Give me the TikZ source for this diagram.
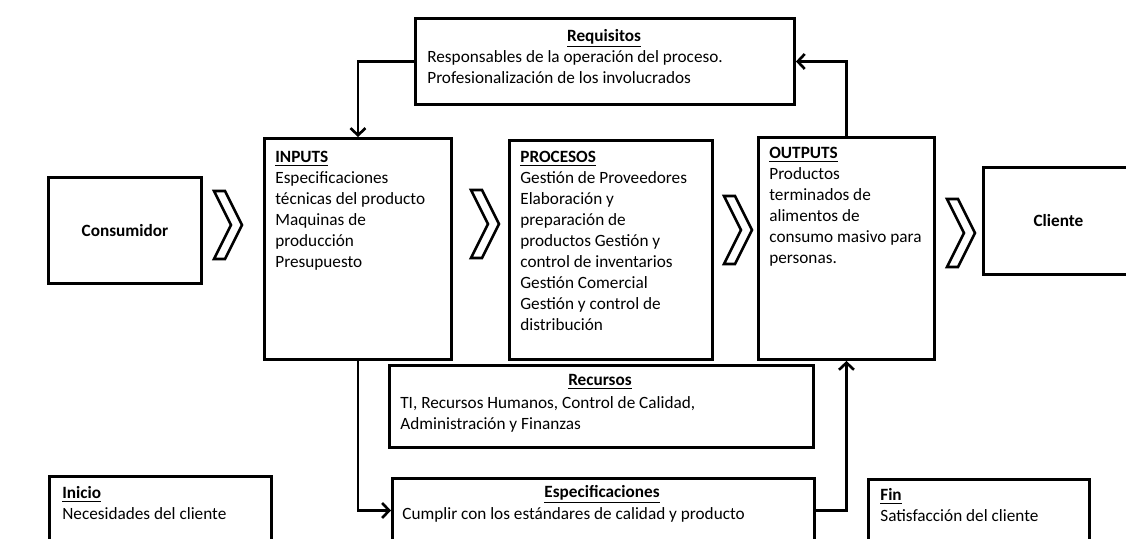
\documentclass[tikz,border=0pt]{standalone}
\usepackage{fontspec}
\setmainfont{Carlito}
\usetikzlibrary{arrows.meta,positioning}
\newcommand{\ttl}[1]{\underline{\textbf{#1}}}
\tikzset{>={Straight Barb[length=4pt,width=8.5pt]},
  every node/.style={font=\fontsize{9.8}{11.95}\selectfont},
  box/.style={draw,line width=1.7pt,anchor=north west,inner sep=0pt},
  txt/.style={anchor=north west,align=left,inner sep=0pt},
  ttlnode/.style={anchor=north,inner sep=0pt},
  link/.style={->,line width=1.5pt},
  chevron/.style={draw,line width=1.5pt,line join=miter,fill=white}}
\begin{document}
\begin{tikzpicture}[x=0.02cm,y=-0.02cm]
\useasboundingbox (0,0) rectangle (1126,538);
\clip (0,0) rectangle (1126,538);
% main row
\node[box,minimum width=3.06cm,minimum height=2.12cm] (cons) at (47,176) {\textbf{Consumidor}};
\node[box,minimum width=3.74cm,minimum height=4.42cm] (inp) at (263,137) {};
\node[box,minimum width=4.06cm,minimum height=4.38cm] (proc) at (508,139) {};
\node[box,minimum width=3.52cm,minimum height=4.44cm] (out) at (757,136) {};
\node[box,minimum width=3.0cm,minimum height=2.14cm] (cli) at (982,166) {\textbf{Cliente}};
% upper and lower boxes
\node[box,minimum width=7.58cm,minimum height=1.72cm] (req) at (414,17) {};
\node[box,minimum width=8.48cm,minimum height=1.64cm] (rec) at (388,364) {};
\node[box,minimum width=8.44cm,minimum height=1.28cm] (esp) at (391,477) {};
\node[box,minimum width=4.44cm,minimum height=1.7cm] (ini) at (48,475) {};
\node[box,minimum width=4.42cm,minimum height=1.64cm] (fin) at (867,478) {};
% texts
\node[txt] (inpT) at (275,151) {\ttl{INPUTS}\\Especificaciones\\técnicas del producto\\Maquinas de\\producción\\Presupuesto};
\node[txt] (procT) at (520,151) {\ttl{PROCESOS}\\Gestión de Proveedores\\Elaboración y\\preparación de\\productos Gestión y\\control de inventarios\\Gestión Comercial\\Gestión y control de\\distribución};
\node[txt] (outT) at (769,147) {\ttl{OUTPUTS}\\Productos\\terminados de\\alimentos de\\consumo masivo para\\personas.};
\node[ttlnode] (reqH) at (604,29) {\ttl{Requisitos}};
\node[txt] (reqT) at (427,50) {Responsables de la operación del proceso.\\Profesionalización de los involucrados};
\node[ttlnode] (recH) at (600,374) {\ttl{Recursos}};
\node[txt] (recT) at (400,396) {TI, Recursos Humanos, Control de Calidad,\\Administración y Finanzas};
\node[ttlnode] (espH) at (602,485) {\ttl{Especificaciones}};
\node[txt] (espT) at (402,507) {Cumplir con los estándares de calidad y producto};
\node[txt] (iniT) at (62,486) {\ttl{Inicio}\\Necesidades del cliente};
\node[txt] (finT) at (880,488) {\ttl{Fin}\\Satisfacción del cliente};
% chevrons
\foreach \cx/\cy in {214/191,471/190,724/196,947/199}
  \draw[chevron] (\cx,\cy) -- ++(11,0) -- ++(17,34) -- ++(-17,34) -- ++(-11,0) -- ++(17,-34) -- cycle;
% feedback links
\draw[link] (req.west) -| (inp.north);
\draw[link] (out.north) |- (req.east);
\draw[link] (inp.south) |- (esp.west);
\draw[link] (esp.east) -| (out.south);
\end{tikzpicture}
\end{document}
